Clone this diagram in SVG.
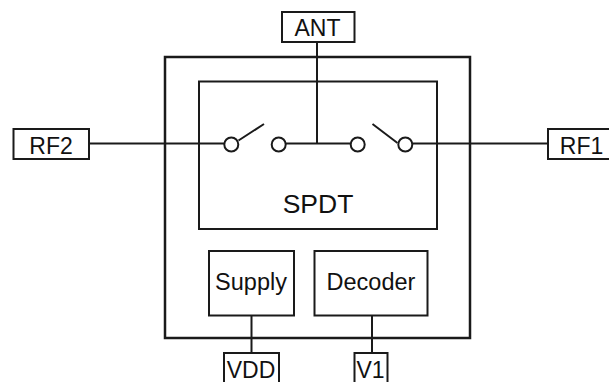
<svg xmlns="http://www.w3.org/2000/svg" width="609" height="382" viewBox="0 0 609 382">
<style>
.b{fill:#fff;stroke:#1a1a1a;stroke-width:2}
.o{fill:none;stroke:#1a1a1a;stroke-width:2}
.h{fill:none;stroke:#1a1a1a;stroke-width:2.5}
.c{fill:#fff;stroke:#1a1a1a;stroke-width:2}
text{font-family:"Liberation Sans",Arial,sans-serif;font-size:23px;fill:#111;text-anchor:middle}
</style>
<rect width="609" height="382" fill="#fff"/>
<g id="chip"><rect class="h" x="165" y="57" width="305" height="281"/></g>
<g id="spdt"><rect class="o" x="199" y="81.500" width="238" height="147.500"/><text x="318" y="213" style="font-size:26.500px">SPDT</text></g>
<g id="connectors">
<path class="o" d="M90 143.500H224.500M285.500 143.500H351M412 143.500H547M317 42V143.500M238.500 140.500L264 124M372.500 124L397.500 143M251.500 315V353M372 315V353"/>
</g>
<g id="switch">
<circle class="c" cx="231.300" cy="144.500" r="7"/>
<circle class="c" cx="278.700" cy="144.500" r="7"/>
<circle class="c" cx="357.700" cy="144.500" r="7"/>
<circle class="c" cx="405.300" cy="144.500" r="7"/>
</g>
<g id="ant"><rect class="b" x="282" y="12" width="72.500" height="30"/><text x="317.500" y="36">ANT</text></g>
<g id="rf2"><rect class="b" x="13.500" y="129" width="75.500" height="30"/><text x="51" y="153.500">RF2</text></g>
<g id="rf1"><rect class="b" x="548" y="129" width="70" height="30"/><text x="581.500" y="153.500">RF1</text></g>
<g id="supply"><rect class="b" x="209" y="251" width="85" height="64.500"/><text x="251" y="289.500" style="font-size:23.500px">Supply</text></g>
<g id="decoder"><rect class="b" x="314.500" y="251" width="113" height="64.500"/><text x="371" y="289.500" style="font-size:23.500px">Decoder</text></g>
<g id="vdd"><rect class="b" x="224" y="353" width="55" height="40"/><text x="251" y="377.500">VDD</text></g>
<g id="v1"><rect class="b" x="354.500" y="353" width="33" height="40"/><text x="370.500" y="377.500">V1</text></g>
</svg>
